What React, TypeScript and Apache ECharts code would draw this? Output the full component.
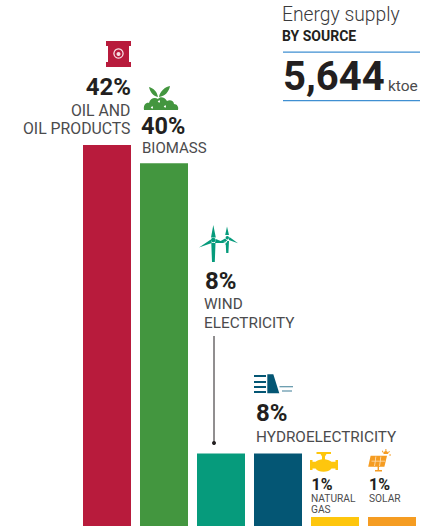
import React, { useEffect, useRef } from "react";
import * as echarts from "echarts";

const categories = ["Oil and oil products", "Biomass", "Wind electricity", "Hydroelectricity", "Natural gas", "Solar"];
const shares = [42, 40, 8, 8, 1, 1];
const barColors = ["#b81b3c", "#43963f", "#069b7c", "#045674", "#fec60d", "#f59c22"];
const percentLabels = ["42%", "40%", "8%", "8%", "1%", "1%"];

const FONT = "Roboto";
const INK = "#231f20";
const LABEL = "#4b4b4d";

const barrel = "M106 41H131V46H129V62H131V67H106V62H108V46H106Z";
const plant =
  "M144 110C143 104 147 102 149 103C150 98 155 97 158 99C160 96 165 97 167 101C170 99 174 101 174 104C177 104 179 107 178 110Z" +
  "M158 97C157 91 153 88 149 87C150 92 153 96 158 97Z M159 97C160 91 165 87 170 86C169 92 165 96 159 97Z";
const turbineLarge =
  "M213.3 225L215.8 237.5H211Z M211.3 243H215.5L214.8 262H212Z M210.8 239.5L199 247.5L211.8 243Z M215.8 239L225.5 243L215 243Z";
const turbineSmall =
  "M227 226.5L229 235H225.2Z M225.6 241H229L228.4 253H226.2Z M225.2 238.5L217 243L226 241.5L224.8 245.5L227.4 241Z M229.4 237L238 243.3L228.8 240Z";
const dam = "M267.3 374.3H273.3L279.3 393.3H267.3Z";
const damSteps = "M254 375H266V377H254Z M254 381H266V383H254Z M254 386H266V388H254Z M254 391H266V393H254Z";
const waves = "M279.5 386.2H293V387.2H279.5Z M282 390.6H292V391.6H282Z";
const valve =
  "M316.5 452H331V454H326.5L325 456.5V459.3C328 459.8 330 460.5 331.5 461.8H335.5V460H338V470H335.5V468.5H331.5C329.8 470.6 327 471.8 323.5 471.8C320 471.8 317.2 470.6 315.5 468.5H312.5V470H310V460H312.5V461.8H315.5C317 460.5 319 459.8 322 459.3V456.5L320.5 454H316.5Z";
const solarPanel =
  "M370.6 455.7H387L384.4 466.8H368.2Z M377.6 466.8H379V470H382V471.4H375V470H377.6Z";
const solarGrid = "M371.5 460.7H385V461.5H371.5Z M375.5 456.5H376.3L375 466H374.2Z M380.5 456.5H381.3L380 466H379.2Z";
const solarSun =
  "M383.5 454A2.4 2.4 0 1 1 388.2 454Z M385.4 449H386.4V451H385.4Z M389 451L390 451.6L388.6 453L388 452.4Z M381.8 451L382.8 450.6L383.6 452.4L383 453Z M389.2 454.6H391V455.6H389.2Z";

Object.entries({ barrel, plant, turbineLarge, turbineSmall, dam, damSteps, waves, valve, solarPanel, solarGrid, solarSun }).forEach(
  ([name, d]) => echarts.graphic.registerShape("icon-" + name, echarts.graphic.extendPath(d, {}) as any),
);

const icon = (name: string, fill: string) => ({ type: "icon-" + name, x: 0, y: 0, style: { fill } });

const text = (
  str: string,
  x: number,
  baseline: number,
  size: number,
  opts: { weight?: number | string; fill?: string; align?: string } = {},
) => ({
  type: "text",
  x,
  y: baseline - size * 0.35,
  style: {
    text: str,
    fontFamily: FONT,
    fontSize: size,
    lineHeight: size,
    fontWeight: opts.weight ?? 400,
    fill: opts.fill ?? LABEL,
    align: opts.align ?? "left",
    verticalAlign: "middle",
  },
});

export default function App() {
  const ref = useRef<HTMLDivElement>(null);
  useEffect(() => {
    const chart = echarts.init(ref.current!, undefined, { renderer: "svg" });
    chart.setOption({
      animation: false,
      grid: { left: 78.5, width: 342, top: 145, height: 381 },
      xAxis: { type: "category", data: categories, show: false },
      yAxis: { type: "value", min: 0, max: 42, show: false },
      series: [
        {
          type: "bar",
          barWidth: 48,
          data: shares.map((value, i) => ({ value, itemStyle: { color: barColors[i] } })),
        },
      ],
      graphic: [
        text("Energy supply", 282, 21, 19.3, { weight: 300, fill: "#3a3a3c" }),
        text("BY SOURCE", 282, 41, 14, { weight: 700, fill: INK }),
        { type: "rect", shape: { x: 283, y: 51.5, width: 137, height: 1.2 }, style: { fill: "#3f8fd2" } },
        text("5,644", 283, 90, 40, { weight: 700, fill: INK }),
        text("ktoe", 388, 91, 15.5, { fill: LABEL }),
        { type: "rect", shape: { x: 283, y: 100, width: 137, height: 1.2 }, style: { fill: "#3f8fd2" } },

        icon("barrel", barColors[0]),
        { type: "circle", shape: { cx: 118.5, cy: 53.5, r: 5.2 }, style: { fill: "#f7dfe4" } },
        { type: "circle", shape: { cx: 118.5, cy: 53.5, r: 4 }, style: { fill: barColors[0] } },
        { type: "circle", shape: { cx: 118.5, cy: 54, r: 2 }, style: { fill: "#f7dfe4" } },
        text(percentLabels[0], 131, 95, 24, { weight: 700, fill: INK, align: "right" }),
        text("OIL AND", 130.5, 116, 15.8, { align: "right" }),
        text("OIL PRODUCTS", 130.5, 134, 15.8, { align: "right" }),

        icon("plant", barColors[1]),
        { type: "circle", shape: { cx: 159, cy: 101.5, r: 1 }, style: { fill: "#fff" } },
        { type: "circle", shape: { cx: 152, cy: 107.5, r: 1 }, style: { fill: "#fff" } },
        { type: "circle", shape: { cx: 165, cy: 106.5, r: 1 }, style: { fill: "#fff" } },
        text(percentLabels[1], 141, 134, 23.5, { weight: 700, fill: INK }),
        text("BIOMASS", 142, 153, 15),

        icon("turbineLarge", barColors[2]),
        icon("turbineSmall", barColors[2]),
        { type: "circle", shape: { cx: 213.3, cy: 240, r: 2.3 }, style: { fill: barColors[2] } },
        { type: "circle", shape: { cx: 227.3, cy: 237.8, r: 1.7 }, style: { fill: barColors[2] } },
        text(percentLabels[2], 205, 289, 24, { weight: 700, fill: INK }),
        text("WIND", 204, 309, 15.3),
        text("ELECTRICITY", 204, 328, 15.3),
        { type: "line", shape: { x1: 214, y1: 336, x2: 214, y2: 442 }, style: { stroke: INK, lineWidth: 1 } },
        { type: "circle", shape: { cx: 214, cy: 443, r: 2 }, style: { fill: INK } },

        icon("dam", barColors[3]),
        icon("damSteps", barColors[3]),
        icon("waves", "#3f7f97"),
        text(percentLabels[3], 256, 421, 24, { weight: 700, fill: INK }),
        text("HYDROELECTRICITY", 256, 442, 15.3),

        icon("valve", barColors[4]),
        text(percentLabels[4], 311.5, 490, 16, { weight: 700, fill: INK }),
        text("NATURAL", 311, 502, 10.2),
        text("GAS", 311, 513, 10.2),

        icon("solarPanel", barColors[5]),
        icon("solarGrid", "#fde3bd"),
        icon("solarSun", barColors[5]),
        text(percentLabels[5], 369, 490, 16, { weight: 700, fill: INK }),
        text("SOLAR", 369, 502, 10.2),
      ],
    });
    return () => chart.dispose();
  }, []);
  return <div ref={ref} style={{ position: "absolute", left: 0, top: 0, width: 441, height: 529 }} />;
}
